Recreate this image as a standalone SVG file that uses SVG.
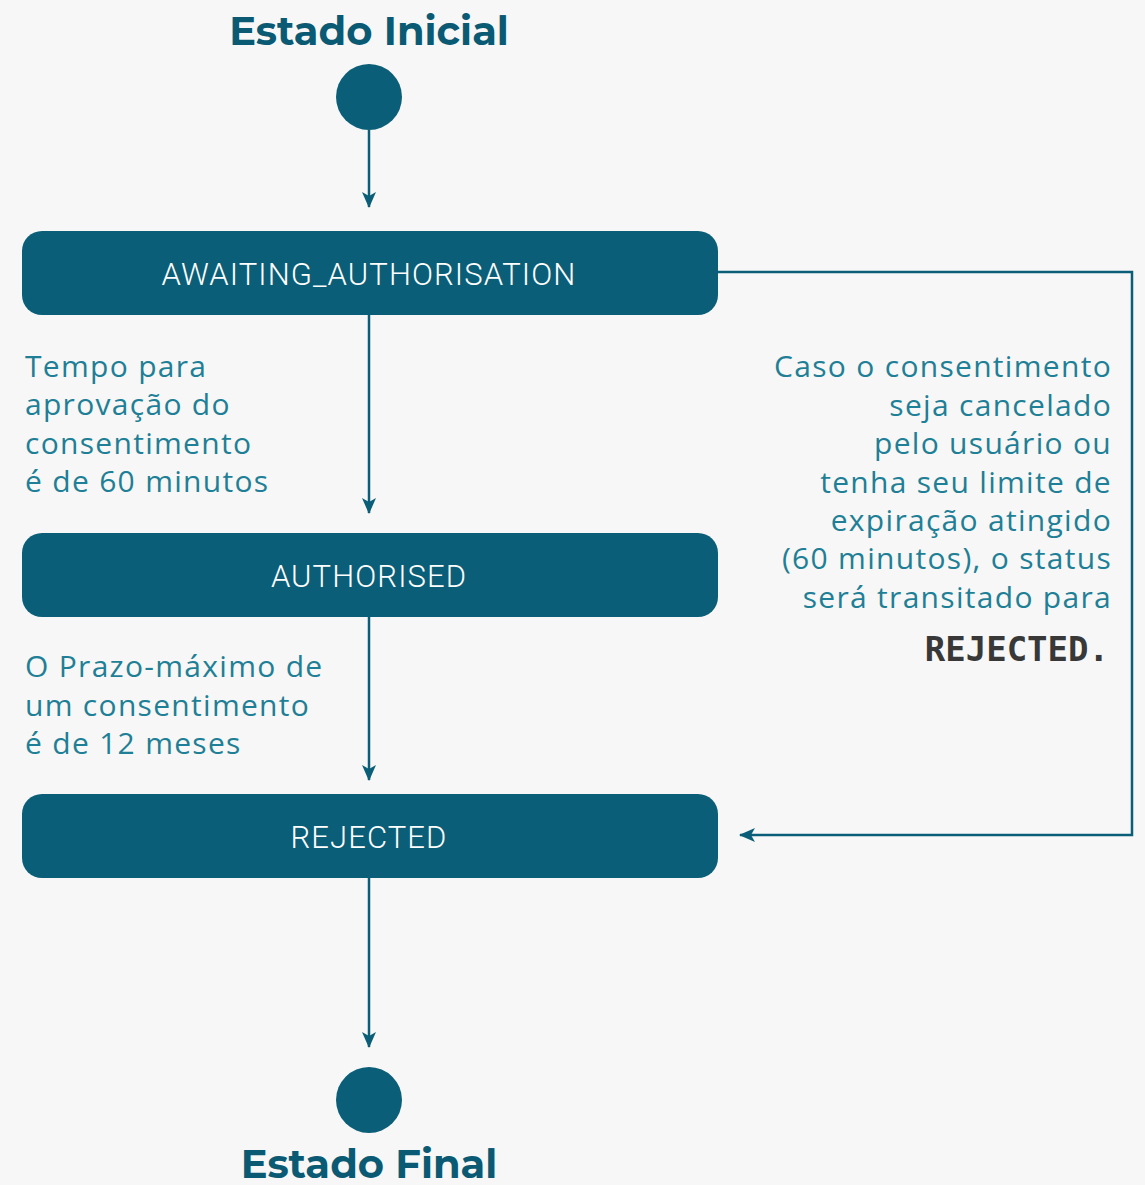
<svg xmlns="http://www.w3.org/2000/svg" width="1145" height="1185" viewBox="0 0 1145 1185">
<defs>
<style>
.title{font-family:"Montserrat","Lato","Liberation Sans",sans-serif;font-weight:700;font-size:40px;fill:#0b5a74;text-anchor:middle}
.node{fill:#0b5e77}
.ntext{font-family:"Roboto","Liberation Sans",sans-serif;font-weight:300;font-size:31px;letter-spacing:1.1px;fill:#ffffff;text-anchor:middle}
.lbl{font-family:"Open Sans","Noto Sans","Liberation Sans",sans-serif;font-size:30px;letter-spacing:1.3px;fill:#1e7f96}
.mono{font-family:"DejaVu Sans Mono","Liberation Mono",monospace;font-weight:700;font-size:34px;fill:#383838;text-anchor:end}
.conn{fill:none;stroke:#0b5e77;stroke-width:2.5}
</style>
<marker id="arr" viewBox="0 0 16 14" refX="15" refY="7" markerWidth="16" markerHeight="14" markerUnits="userSpaceOnUse" orient="auto">
<path d="M0,0 L16,7 L0,14 L4,7 Z" fill="#0b5e77"/>
</marker>
</defs>
<rect width="1145" height="1185" fill="#f7f7f7"/>
<g id="connectors">
<line class="conn" x1="369" y1="130" x2="369" y2="207" marker-end="url(#arr)" stroke="#3a7f90"/>
<line class="conn" x1="369" y1="315" x2="369" y2="513" marker-end="url(#arr)"/>
<line class="conn" x1="369" y1="617" x2="369" y2="780" marker-end="url(#arr)"/>
<line class="conn" x1="369" y1="878" x2="369" y2="1047" marker-end="url(#arr)"/>
<polyline class="conn" points="718,272 1132,272 1132,835 740,835" marker-end="url(#arr)"/>
</g>
<g id="start">
<text class="title" x="369" y="45">Estado Inicial</text>
<circle cx="369" cy="97" r="33" class="node"/>
</g>
<g id="awaiting">
<rect x="22" y="231" width="696" height="84" rx="20" class="node"/>
<text class="ntext" x="369" y="285">AWAITING_AUTHORISATION</text>
</g>
<g id="authorised">
<rect x="22" y="533" width="696" height="84" rx="20" class="node"/>
<text class="ntext" x="369" y="587">AUTHORISED</text>
</g>
<g id="rejected">
<rect x="22" y="794" width="696" height="84" rx="20" class="node"/>
<text class="ntext" x="369" y="848">REJECTED</text>
</g>
<g id="end">
<circle cx="369" cy="1100" r="33" class="node"/>
<text class="title" x="369" y="1178">Estado Final</text>
</g>
<g id="label-left-1">
<text class="lbl" x="25" y="377">Tempo para</text>
<text class="lbl" x="25" y="415">aprovação do</text>
<text class="lbl" x="25" y="454">consentimento</text>
<text class="lbl" x="25" y="492">é de 60 minutos</text>
</g>
<g id="label-left-2">
<text class="lbl" x="25" y="677">O Prazo-máximo de</text>
<text class="lbl" x="25" y="716">um consentimento</text>
<text class="lbl" x="25" y="754">é de 12 meses</text>
</g>
<g id="label-right">
<text class="lbl" x="1112" y="377" text-anchor="end">Caso o consentimento</text>
<text class="lbl" x="1112" y="416" text-anchor="end">seja cancelado</text>
<text class="lbl" x="1112" y="454" text-anchor="end">pelo usuário ou</text>
<text class="lbl" x="1112" y="493" text-anchor="end">tenha seu limite de</text>
<text class="lbl" x="1112" y="531" text-anchor="end">expiração atingido</text>
<text class="lbl" x="1112" y="569" text-anchor="end">(60 minutos), o status</text>
<text class="lbl" x="1112" y="608" text-anchor="end">será transitado para</text>
<text class="mono" x="1109" y="661">REJECTED.</text>
</g>
</svg>
